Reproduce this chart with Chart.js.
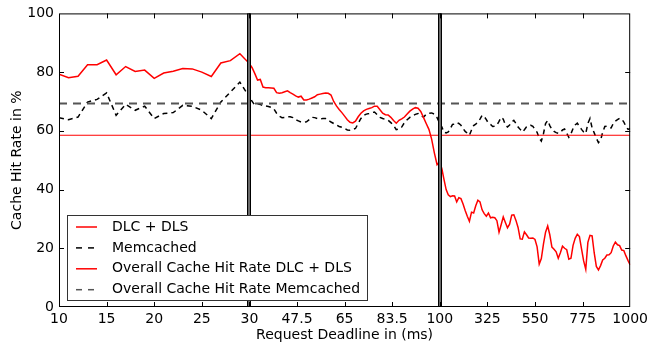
<!DOCTYPE html>
<html>
<head>
<meta charset="utf-8">
<script src="https://cdn.jsdelivr.net/npm/chart.js@4.4.0/dist/chart.umd.min.js"></script>
<style>
  html, body { margin: 0; padding: 0; background: #fff; }
</style>
</head>
<body>
<canvas id="hitrate" width="652" height="348"></canvas>
<script>
// x axis is split in three pieces: 10-30 ms, 30-100 ms, 100-1000 ms
const xTickLabels = ['10', '15', '20', '25', '30', '47.5', '65', '83.5', '100', '325', '550', '775', '1000'];
const boundaries = [4, 8];

// 10..30 ms, 1 ms step
const seg1Start = 10, seg1Step = 1;
const dlcSeg1 = [79.3, 78.1, 78.6, 82.5, 82.5, 84.1, 79.1, 81.9, 80.2, 80.7, 77.9, 79.7, 80.3, 81.2, 81.1, 80.0, 78.5, 83.1, 83.9, 86.3, 82.9];
const memSeg1 = [64.5, 63.8, 64.7, 69.8, 70.7, 72.9, 65.3, 69.0, 67.0, 68.4, 64.2, 65.9, 66.2, 68.7, 68.4, 67.0, 64.2, 69.8, 73.2, 76.6, 71.5];

// 30..100 ms, 1 ms step
const seg2Start = 30, seg2Step = 1;
const dlcSeg2 = [82.9, 81.5, 79.5, 77.3, 77.5, 74.9, 74.7, 74.7, 74.6, 74.5,
  73.0, 72.8, 73.0, 73.3, 73.6, 73.0, 72.5, 71.9, 71.5, 71.8,
  70.5, 70.5, 70.8, 71.2, 71.6, 72.3, 72.5, 72.7, 72.9, 72.8,
  72.2, 70.0, 68.5, 67.3, 66.2, 65.0, 63.8, 62.9, 62.7, 63.3,
  64.8, 66.0, 66.8, 67.3, 67.6, 67.9, 68.4, 68.4, 67.2, 66.0,
  65.5, 65.4, 64.6, 63.5, 62.6, 63.6, 64.1, 64.7, 65.7, 66.7,
  67.4, 67.9, 67.7, 66.6, 64.6, 62.5, 60.5, 57.2, 52.5, 48.5,
  49.5];
const memSeg2 = [72.0, 70.0, 68.8, 69.2, 69.0, 68.5, 68.5, 68.3, 68.0, 67.5,
  66.0, 65.0, 64.5, 64.6, 64.8, 64.8, 64.5, 63.8, 63.4, 63.0,
  63.0, 63.1, 63.8, 64.6, 64.5, 64.2, 64.0, 64.2, 64.2, 63.6,
  63.0, 62.5, 62.0, 61.5, 61.2, 60.8, 60.3, 60.2, 60.5, 60.8,
  62.5, 64.2, 65.3, 65.7, 65.9, 66.2, 66.4, 65.5, 64.6, 64.2,
  63.9, 63.6, 62.8, 61.9, 60.4, 60.6, 61.3, 62.8, 63.8, 64.6,
  65.1, 65.6, 65.9, 65.2, 64.7, 65.6, 66.0, 66.1, 65.7, 64.5,
  62.5];

// 100..1000 ms, 10 ms step
const seg3Start = 100, seg3Step = 10;
const dlcSeg3 = [49.5, 47.0, 43.4, 40.0, 38.2, 37.6, 37.9, 37.8, 35.8, 37.2,
  36.9, 35.1, 32.9, 30.9, 29.2, 32.3, 32.0, 34.5, 36.4, 35.8,
  33.1, 31.8, 30.9, 32.0, 30.4, 30.6, 30.4, 29.4, 25.5, 28.0,
  30.7, 28.8, 27.0, 28.2, 31.3, 31.4, 29.5, 27.1, 23.2, 23.1,
  25.6, 24.6, 23.5, 23.4, 23.5, 23.0, 20.5, 14.6, 16.5, 21.4,
  25.5, 27.6, 24.6, 20.4, 19.7, 18.8, 16.6, 18.5, 20.7, 20.0,
  19.5, 16.3, 16.6, 21.0, 23.4, 24.8, 24.0, 19.8, 15.7, 12.8,
  22.0, 24.4, 24.2, 18.4, 13.8, 12.6, 14.1, 16.0, 16.6, 17.7,
  17.8, 18.5, 20.8, 22.1, 21.2, 20.9, 19.4, 19.2, 17.4, 15.8,
  14.3];
const memSeg3 = [62.5, 61.3, 59.5, 59.3, 59.6, 60.8, 62.2, 62.3, 62.8, 62.5,
  61.9, 60.8, 59.8, 59.2, 58.5, 60.3, 61.8, 62.3, 63.0, 64.0,
  65.3, 64.9, 63.8, 62.6, 62.2, 61.5, 61.6, 62.0, 63.2, 64.6,
  64.0, 62.0, 61.3, 62.0, 63.0, 63.6, 62.5, 61.3, 60.5, 59.6,
  60.4, 61.4, 61.8, 61.9, 61.5, 60.5, 59.5, 57.5, 56.5, 59.0,
  62.5, 63.5, 61.8, 60.5, 59.8, 59.4, 59.2, 59.4, 60.3, 60.6,
  59.2, 57.8, 59.0, 60.8, 62.0, 62.6, 61.5, 60.5, 59.6, 59.1,
  62.5, 64.2, 61.0, 59.3, 57.5, 56.0, 56.8, 59.5, 61.5, 61.6,
  61.2, 61.0, 62.5, 63.3, 63.8, 64.3, 64.0, 63.0, 61.5, 60.5,
  60.8];

const overallDlc = 58.5;
const overallMem = 69.3;

// ms -> position on the 0..12 axis
function msToPos(ms) {
  if (ms <= 30) return (ms - 10) / 5;
  if (ms <= 100) return 4 + (ms - 30) * 4 / 70;
  return 8 + (ms - 100) / 225;
}

function buildPoints(segs) {
  let pts = [];
  segs.forEach(s => {
    s.vals.forEach((v, i) => pts.push({ x: msToPos(s.start + i * s.step), y: v }));
  });
  return pts;
}

const dlcPoints = buildPoints([
  { start: seg1Start, step: seg1Step, vals: dlcSeg1 },
  { start: seg2Start, step: seg2Step, vals: dlcSeg2 },
  { start: seg3Start, step: seg3Step, vals: dlcSeg3 }
]);
const memPoints = buildPoints([
  { start: seg1Start, step: seg1Step, vals: memSeg1 },
  { start: seg2Start, step: seg2Step, vals: memSeg2 },
  { start: seg3Start, step: seg3Step, vals: memSeg3 }
]);

const fontFam = 'DejaVu Sans';

const framePlugin = {
  id: 'frame',
  afterDatasetsDraw(chart) {
    const ctx = chart.ctx;
    const a = chart.chartArea;
    const x = chart.scales.x, y = chart.scales.y;
    ctx.save();

    // segment boundaries
    boundaries.forEach(p => {
      const px = Math.round(x.getPixelForValue(p));
      ctx.fillStyle = '#000';
      ctx.fillRect(px - 2, a.top, 4, a.bottom - a.top);
      ctx.fillStyle = '#6a6a6a';
      ctx.fillRect(px - 1, a.top, 2, a.bottom - a.top);
    });

    // frame
    ctx.strokeStyle = '#000';
    ctx.lineWidth = 1;
    ctx.strokeRect(a.left + 0.5, a.top + 0.5, a.right - a.left - 1, a.bottom - a.top - 1);

    // inward tick marks on all four sides
    ctx.beginPath();
    for (let v = 20; v < 100; v += 20) {
      const py = Math.round(y.getPixelForValue(v)) + 0.5;
      ctx.moveTo(a.left, py); ctx.lineTo(a.left + 5, py);
      ctx.moveTo(a.right, py); ctx.lineTo(a.right - 5, py);
    }
    for (let i = 1; i < xTickLabels.length - 1; i++) {
      const px = Math.round(x.getPixelForValue(i)) + 0.5;
      ctx.moveTo(px, a.bottom); ctx.lineTo(px, a.bottom - 5);
      ctx.moveTo(px, a.top); ctx.lineTo(px, a.top + 5);
    }
    ctx.stroke();

    // legend box
    const lx = 67, ly = 215, lw = 300, lh = 85;
    ctx.fillStyle = '#fff';
    ctx.fillRect(lx, ly, lw, lh);
    ctx.strokeStyle = '#333';
    ctx.strokeRect(lx + 0.5, ly + 0.5, lw, lh);
    ctx.font = '14px "' + fontFam + '"';
    ctx.textBaseline = 'middle';
    chart.data.datasets.forEach((ds, i) => {
      const ry = ly + 12 + i * 20.9;
      ctx.beginPath();
      ctx.strokeStyle = ds.borderColor;
      ctx.lineWidth = 1.5;
      ctx.setLineDash(ds.borderDash && ds.borderDash.length ? [6, 6] : []);
      ctx.moveTo(lx + 9, ry);
      ctx.lineTo(lx + 30, ry);
      ctx.stroke();
      ctx.setLineDash([]);
      ctx.fillStyle = '#000';
      ctx.fillText(ds.label, lx + 45, ry);
    });
    ctx.restore();
  }
};

new Chart(document.getElementById('hitrate'), {
  type: 'line',
  data: {
    datasets: [
      {
        label: 'DLC + DLS',
        data: dlcPoints,
        borderColor: '#ff0000',
        borderWidth: 1.5,
        pointRadius: 0,
        order: 2
      },
      {
        label: 'Memcached',
        data: memPoints,
        borderColor: '#000000',
        borderWidth: 1.5,
        borderDash: [5, 4],
        pointRadius: 0,
        order: 3
      },
      {
        label: 'Overall Cache Hit Rate DLC + DLS',
        data: [{ x: 0, y: overallDlc }, { x: 12, y: overallDlc }],
        borderColor: '#ff0000',
        borderWidth: 1.2,
        pointRadius: 0,
        order: 1
      },
      {
        label: 'Overall Cache Hit Rate Memcached',
        data: [{ x: 0, y: overallMem }, { x: 12, y: overallMem }],
        borderColor: '#555555',
        borderWidth: 2,
        borderDash: [8, 6],
        pointRadius: 0,
        order: 0
      }
    ]
  },
  options: {
    responsive: false,
    animation: false,
    parsing: false,
    elements: { line: { tension: 0 } },
    layout: { padding: { top: 13, right: 21, left: 0, bottom: 0 } },
    plugins: {
      legend: { display: false },
      tooltip: { enabled: false }
    },
    scales: {
      x: {
        type: 'linear',
        min: 0,
        max: 12,
        grid: { display: false, drawTicks: false },
        border: { display: false },
        ticks: {
          stepSize: 1,
          autoSkip: false,
          maxRotation: 0,
          padding: 4,
          color: '#000',
          font: { family: fontFam, size: 14 },
          callback: v => xTickLabels[v]
        },
        title: {
          display: true,
          text: 'Request Deadline in (ms)',
          color: '#000',
          font: { family: fontFam, size: 14 },
          padding: { top: 0, bottom: 4 }
        },
        afterFit: s => { s.height = 41; }
      },
      y: {
        min: 0,
        max: 100,
        grid: { display: false, drawTicks: false },
        border: { display: false },
        ticks: {
          stepSize: 20,
          padding: 5,
          color: '#000',
          font: { family: fontFam, size: 14 }
        },
        title: {
          display: true,
          text: 'Cache Hit Rate in %',
          color: '#000',
          font: { family: fontFam, size: 14 },
          padding: { top: 9, bottom: 0 }
        },
        afterFit: s => { s.width = 59; }
      }
    }
  },
  plugins: [framePlugin]
});
</script>
</body>
</html>
